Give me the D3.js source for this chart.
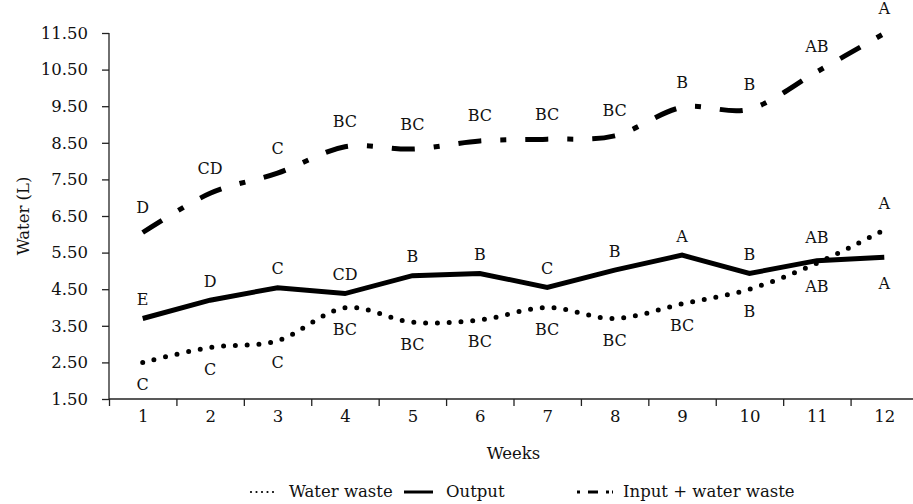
<!DOCTYPE html>
<html>
<head>
<meta charset="utf-8">
<script src="https://cdn.jsdelivr.net/npm/d3@7"></script>
<style>
  body { margin: 0; background: #fff; }
  svg text { font-family: "DejaVu Serif", serif; fill: #111; }
  .axis path, .axis line { stroke: #222; stroke-width: 1.3; }
  .axis text { font-size: 16.5px; }
</style>
</head>
<body>
<div id="chart"></div>
<script>
// data
var weeks = [1, 2, 3, 4, 5, 6, 7, 8, 9, 10, 11, 12];
var yTicks = [1.5, 2.5, 3.5, 4.5, 5.5, 6.5, 7.5, 8.5, 9.5, 10.5, 11.5];

var waterWaste = [2.50, 2.91, 3.09, 3.99, 3.60, 3.66, 4.00, 3.70, 4.10, 4.50, 5.21, 6.12];
var output     = [3.70, 4.20, 4.54, 4.38, 4.87, 4.93, 4.55, 5.02, 5.43, 4.93, 5.28, 5.37];
var inputWaste = [6.05, 7.12, 7.67, 8.39, 8.33, 8.55, 8.60, 8.69, 9.47, 9.42, 10.44, 11.49];

var wasteLetters  = ["C", "C", "C", "BC", "BC", "BC", "BC", "BC", "BC", "B", "AB", "A"];
var outputLetters = ["E", "D", "C", "CD", "B", "B", "C", "B", "A", "B", "AB", "A"];
var inputLetters  = ["D", "CD", "C", "BC", "BC", "BC", "BC", "BC", "B", "B", "AB", "A"];

// from week 11 on the two lower lines cross, so their letters swap sides
var flipFrom = 11;

var W = 913, H = 504;
var svg = d3.select("#chart").append("svg")
    .attr("width", W)
    .attr("height", H);

var x = d3.scaleLinear().domain([0.5, 12.5]).range([109, 918]);
var y = d3.scaleLinear().domain([1.5, 11.5]).range([399, 33]);

// y axis
svg.append("g")
    .attr("class", "axis")
    .attr("transform", "translate(109,0)")
    .call(d3.axisLeft(y).tickValues(yTicks).tickSize(7).tickPadding(14).tickFormat(d3.format(".2f")))
    .call(function(g) { g.select(".domain").attr("d", "M0," + y(11.5) + "V" + y(1.5)); });

// x axis: labels at week centres, ticks at the borders
var xg = svg.append("g")
    .attr("class", "axis")
    .attr("transform", "translate(0,399)");
xg.call(d3.axisBottom(x).tickValues(d3.range(0.5, 13, 1)).tickSize(7).tickFormat(""));
xg.select(".domain").attr("d", "M" + x(0.5) + ",0H" + x(12.5));
var xl = svg.append("g")
    .attr("class", "axis")
    .attr("transform", "translate(0,399)")
    .call(d3.axisBottom(x).tickValues(weeks).tickSize(0).tickPadding(11).tickFormat(d3.format("d")));
xl.select(".domain").remove();

svg.append("text")
    .attr("transform", "translate(23," + y(6.5) + ") rotate(-90)")
    .attr("text-anchor", "middle")
    .attr("dominant-baseline", "central")
    .style("font-size", "16.5px")
    .text("Water (L)");

svg.append("text")
    .attr("x", x(6.5))
    .attr("y", 453)
    .attr("text-anchor", "middle")
    .attr("dominant-baseline", "central")
    .style("font-size", "16.5px")
    .text("Weeks");

// lines
var smooth = d3.line()
    .x(function(d, i) { return x(weeks[i]); })
    .y(function(d) { return y(d); })
    .curve(d3.curveCardinal.tension(0));
var straight = d3.line()
    .x(function(d, i) { return x(weeks[i]); })
    .y(function(d) { return y(d); });

svg.append("path")
    .datum(inputWaste)
    .attr("d", smooth)
    .attr("fill", "none")
    .attr("stroke", "#000")
    .attr("stroke-width", 5)
    .attr("stroke-dasharray", "23 19 6 19");

svg.append("path")
    .datum(output)
    .attr("d", straight)
    .attr("fill", "none")
    .attr("stroke", "#000")
    .attr("stroke-width", 5)
    .attr("stroke-linejoin", "miter");

svg.append("path")
    .datum(waterWaste)
    .attr("d", smooth)
    .attr("fill", "none")
    .attr("stroke", "#000")
    .attr("stroke-width", 5)
    .attr("stroke-linecap", "round")
    .attr("stroke-dasharray", "0 11.8");

// letter labels
function letters(vals, txt, offsetFn) {
  svg.append("g").selectAll("text")
    .data(vals)
    .join("text")
      .attr("x", function(d, i) { return x(weeks[i]); })
      .attr("y", function(d, i) { return y(d) + offsetFn(i); })
      .attr("text-anchor", "middle")
      .attr("dominant-baseline", "central")
      .style("font-size", "16px")
      .text(function(d, i) { return txt[i]; });
}
letters(inputWaste, inputLetters, function() { return -25; });
letters(output, outputLetters, function(i) { return weeks[i] >= flipFrom ? 26 : -19; });
letters(waterWaste, wasteLetters, function(i) { return weeks[i] >= flipFrom ? -26 : 22; });

// legend
var ly = 491;
var leg = svg.append("g");
leg.append("line")
    .attr("x1", 251).attr("x2", 277).attr("y1", ly + 1).attr("y2", ly + 1)
    .attr("stroke", "#000").attr("stroke-width", 2.2)
    .attr("stroke-linecap", "round").attr("stroke-dasharray", "0 5.5");
leg.append("text").attr("x", 289).attr("y", ly).attr("dominant-baseline", "central")
    .style("font-size", "16.5px").text("Water waste");
leg.append("line")
    .attr("x1", 404).attr("x2", 433).attr("y1", ly + 1).attr("y2", ly + 1)
    .attr("stroke", "#000").attr("stroke-width", 3);
leg.append("text").attr("x", 446).attr("y", ly).attr("dominant-baseline", "central")
    .style("font-size", "16.5px").text("Output");
leg.append("line")
    .attr("x1", 577).attr("x2", 613).attr("y1", ly + 1).attr("y2", ly + 1)
    .attr("stroke", "#000").attr("stroke-width", 3)
    .attr("stroke-dasharray", "3 8 10 8 3");
leg.append("text").attr("x", 623).attr("y", ly).attr("dominant-baseline", "central")
    .style("font-size", "16.5px").text("Input + water waste");
</script>
</body>
</html>
